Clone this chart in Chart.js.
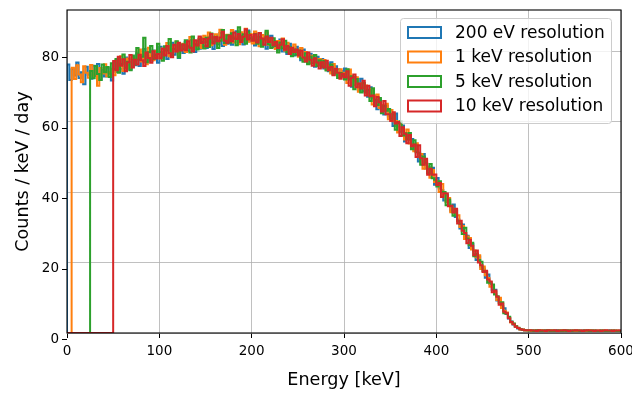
<!DOCTYPE html>
<html>
<head>
<meta charset="utf-8">
<script src="https://cdn.jsdelivr.net/npm/chart.js@4.4.1/dist/chart.umd.min.js"></script>
<style>
  html, body { margin: 0; padding: 0; background: #fff; }
  #chart { display: block; }
</style>
</head>
<body>
<canvas id="chart" width="632" height="394"></canvas>
<script>
// histogram bins are 2.5 keV wide, 0 - 600 keV (240 bins per series)
const BIN_WIDTH = 2.5;

const seriesLabels = ['200 eV resolution', '1 keV resolution', '5 keV resolution', '10 keV resolution'];
const seriesColors = ['#1f77b4', '#ff7f0e', '#2ca02c', '#d62728'];
const xTicks = [0, 100, 200, 300, 400, 500, 600];
const yTicks = [0, 20, 40, 60, 80];

const res200eV = [
  76.2, 71.8, 74.9, 73.1, 76.8, 72.4, 74.0, 70.6, 75.6, 73.3,
  72.2, 75.9, 73.0, 76.4, 71.9, 74.7, 72.8, 75.3, 73.6, 71.7,
  76.8, 74.1, 77.9, 75.0, 73.6, 78.2, 76.1, 74.8, 77.5, 76.0,
  79.4, 75.8, 78.1, 80.6, 76.9, 78.8, 77.3, 80.2, 78.0, 76.7,
  81.3, 78.2, 80.9, 77.8, 79.6, 82.4, 79.0, 80.3, 78.1, 81.7,
  79.5, 82.6, 80.1, 83.2, 81.0, 79.8, 82.9, 80.7, 83.8, 81.4,
  80.9, 84.1, 82.3, 80.6, 83.7, 82.0, 85.2, 81.5, 83.4, 82.1,
  84.6, 81.8, 83.9, 85.7, 82.2, 84.3, 81.9, 83.5, 85.9, 82.8,
  84.0, 81.6, 83.2, 85.1, 81.9, 83.8, 80.7, 82.9, 84.4, 81.2,
  82.8, 80.4, 83.3, 79.9, 81.7, 79.2, 82.1, 80.0, 78.8, 81.3,
  79.6, 77.4, 80.5, 78.1, 76.8, 79.3, 77.9, 75.6, 78.4, 76.2,
  77.8, 75.1, 76.6, 74.3, 76.9, 73.8, 75.7, 74.9, 72.6, 74.4,
  75.1, 72.3, 72.7, 69.9, 72.7, 71.4, 69.0, 72.2, 68.6, 68.8,
  67.1, 69.8, 66.7, 67.4, 63.5, 66.2, 64.6, 62.0, 64.5, 61.5,
  62.1, 58.8, 62.3, 58.7, 57.1, 58.9, 54.4, 56.4, 54.8, 55.1,
  52.2, 53.3, 48.7, 50.4, 50.8, 46.7, 47.2, 45.2, 46.9, 42.1,
  44.0, 41.0, 40.6, 37.6, 39.1, 37.3, 34.7, 36.5, 32.9, 32.2,
  29.7, 30.8, 27.9, 27.6, 24.1, 25.3, 23.3, 20.7, 21.7, 18.7,
  18.3, 15.7, 16.6, 13.9, 12.2, 12.3, 9.2, 9.3, 7.6, 7.0,
  5.4, 4.1, 3.3, 2.4, 1.8, 1.3, 1.1, 0.9, 0.8, 0.8,
  0.7, 0.8, 0.6, 0.7, 0.8, 0.7, 0.6, 0.8, 0.7, 0.7,
  0.6, 0.7, 0.8, 0.6, 0.7, 0.7, 0.8, 0.6, 0.7, 0.6,
  0.7, 0.6, 0.7, 0.8, 0.6, 0.7, 0.6, 0.7, 0.6, 0.7,
  0.6, 0.7, 0.6, 0.6, 0.7, 0.6, 0.7, 0.6, 0.6, 0.7
];

const res1keV = [
  0, 0, 75.3, 72.1, 76.0, 73.4, 71.2, 75.7, 73.9, 72.5,
  76.1, 73.0, 74.6, 70.2, 75.2, 73.7, 76.3, 72.9, 74.1, 75.0,
  73.2, 77.4, 75.1, 78.6, 74.4, 76.7, 77.9, 75.2, 78.3, 76.9,
  78.0, 80.5, 77.1, 79.2, 76.3, 81.0, 78.6, 77.4, 80.1, 79.3,
  77.9, 80.8, 79.4, 82.3, 78.6, 81.1, 80.0, 82.7, 79.2, 80.4,
  82.1, 79.8, 81.6, 84.0, 80.3, 82.5, 81.2, 83.6, 80.9, 84.4,
  82.6, 85.3, 81.7, 83.9, 84.8, 82.4, 86.1, 83.2, 81.8, 84.7,
  83.1, 86.0, 82.5, 84.2, 82.0, 85.4, 83.3, 86.4, 82.7, 84.9,
  82.2, 85.6, 83.0, 81.4, 84.6, 82.8, 85.3, 81.8, 83.5, 82.3,
  80.6, 82.9, 81.1, 83.6, 80.2, 82.4, 80.8, 79.5, 81.9, 80.1,
  78.4, 80.9, 77.6, 79.8, 78.9, 76.5, 78.7, 77.0, 76.1, 77.8,
  76.2, 77.5, 74.8, 75.9, 73.7, 76.4, 74.2, 73.1, 74.9, 72.8,
  73.9, 71.0, 74.8, 71.7, 70.4, 72.6, 68.5, 70.8, 69.6, 70.3,
  67.7, 69.2, 64.9, 67.0, 67.7, 63.9, 64.7, 63.1, 65.1, 60.7,
  63.3, 60.1, 60.2, 56.9, 59.4, 57.7, 54.9, 57.8, 53.8, 53.6,
  51.6, 53.9, 50.5, 50.8, 46.6, 49.0, 47.1, 44.1, 46.3, 42.9,
  43.1, 40.0, 42.3, 39.1, 37.2, 38.3, 34.3, 35.3, 33.7, 33.4,
  30.1, 30.4, 26.7, 27.4, 27.0, 23.7, 23.4, 21.5, 22.1, 18.2,
  18.9, 16.4, 15.6, 13.1, 13.4, 11.7, 9.4, 10.0, 7.1, 6.3,
  5.8, 4.4, 3.0, 2.6, 1.9, 1.4, 1.0, 1.0, 0.8, 0.7,
  0.8, 0.6, 0.7, 0.7, 0.6, 0.8, 0.7, 0.6, 0.7, 0.8,
  0.7, 0.6, 0.6, 0.7, 0.8, 0.6, 0.7, 0.7, 0.6, 0.7,
  0.6, 0.7, 0.7, 0.6, 0.7, 0.6, 0.8, 0.6, 0.7, 0.6,
  0.7, 0.6, 0.7, 0.7, 0.6, 0.6, 0.7, 0.6, 0.7, 0.6
];

const res5keV = [
  0, 0, 0, 0, 0, 0, 0, 0, 0, 0,
  74.4, 72.3, 75.8, 73.5, 71.8, 76.2, 74.0, 75.5, 72.7, 76.6,
  74.9, 77.8, 73.9, 76.4, 79.1, 75.3, 77.0, 74.6, 78.8, 76.2,
  80.9, 77.6, 78.4, 83.8, 76.9, 79.7, 81.5, 77.8, 79.0, 82.1,
  79.8, 77.3, 81.4, 80.2, 83.5, 78.9, 80.6, 82.8, 78.2, 81.9,
  80.6, 83.1, 81.4, 79.6, 84.2, 82.0, 80.5, 83.4, 82.6, 80.8,
  83.8, 81.2, 85.0, 82.7, 84.1, 80.9, 83.0, 86.0, 82.3, 84.5,
  82.4, 85.1, 83.6, 81.7, 86.8, 83.0, 84.8, 82.1, 85.5, 83.7,
  83.4, 84.9, 82.1, 84.1, 81.3, 83.3, 85.8, 82.0, 80.9, 83.7,
  81.5, 79.6, 82.5, 80.8, 83.0, 79.7, 81.2, 78.6, 80.5, 79.0,
  80.2, 78.0, 77.0, 79.4, 76.3, 78.5, 76.6, 78.9, 75.8, 77.4,
  75.6, 77.2, 74.5, 75.3, 76.2, 73.4, 74.6, 72.4, 73.8, 73.0,
  72.0, 74.9, 72.0, 72.9, 69.2, 72.1, 70.7, 68.3, 71.0, 68.2,
  69.0, 65.9, 69.5, 66.2, 64.7, 66.7, 62.4, 64.5, 63.1, 63.6,
  60.8, 62.1, 57.7, 59.5, 60.1, 56.1, 56.7, 55.0, 56.8, 52.2,
  54.7, 51.3, 51.2, 47.8, 50.1, 48.3, 45.4, 48.0, 43.9, 43.5,
  41.6, 43.1, 40.1, 40.0, 36.3, 37.9, 36.1, 33.3, 34.8, 31.8,
  31.0, 28.1, 29.9, 26.8, 24.9, 25.6, 21.8, 22.5, 20.7, 20.2,
  17.6, 17.4, 14.3, 14.4, 13.8, 10.9, 10.4, 8.6, 8.7, 5.6,
  5.5, 4.6, 3.2, 2.7, 1.9, 1.5, 1.1, 0.9, 0.8, 0.8,
  0.7, 0.7, 0.6, 0.8, 0.7, 0.6, 0.7, 0.7, 0.8, 0.6,
  0.7, 0.6, 0.7, 0.7, 0.6, 0.8, 0.6, 0.7, 0.6, 0.7,
  0.7, 0.7, 0.6, 0.6, 0.7, 0.7, 0.6, 0.7, 0.7, 0.6,
  0.6, 0.7, 0.7, 0.6, 0.6, 0.7, 0.6, 0.7, 0.6, 0.6
];

const res10keV = [
  0, 0, 0, 0, 0, 0, 0, 0, 0, 0,
  0, 0, 0, 0, 0, 0, 0, 0, 0, 0,
  77.2, 74.6, 78.4, 75.9, 77.7, 74.3, 76.8, 78.9, 75.4, 77.6,
  76.2, 79.0, 77.4, 75.8, 79.6, 78.1, 76.7, 80.0, 77.9, 79.2,
  78.0, 80.7, 78.8, 81.5, 79.4, 78.3, 81.8, 79.9, 82.4, 80.2,
  81.9, 80.3, 82.8, 81.0, 79.9, 83.1, 81.6, 84.2, 82.3, 83.5,
  81.4, 83.6, 84.9, 82.2, 84.0, 82.8, 83.9, 85.5, 83.0, 82.4,
  84.4, 82.8, 85.3, 83.5, 84.9, 82.6, 84.1, 86.2, 83.3, 84.6,
  83.0, 84.8, 82.5, 85.2, 83.6, 81.8, 84.2, 82.6, 83.8, 81.7,
  82.6, 80.9, 81.8, 83.4, 80.4, 81.5, 79.2, 81.0, 79.8, 80.5,
  78.8, 80.1, 78.2, 77.1, 79.6, 77.6, 75.9, 78.0, 76.8, 75.1,
  76.9, 75.4, 77.3, 74.6, 75.5, 73.2, 75.0, 73.9, 72.2, 73.6,
  72.6, 74.3, 70.2, 72.5, 73.4, 69.8, 70.8, 69.4, 71.6, 67.4,
  70.2, 67.2, 67.4, 64.4, 67.0, 65.5, 62.9, 65.9, 62.1, 62.1,
  60.2, 62.7, 59.5, 59.9, 55.9, 58.4, 56.6, 53.9, 56.2, 53.0,
  53.5, 50.0, 53.3, 49.6, 47.8, 49.5, 44.9, 46.6, 44.9, 45.0,
  42.0, 42.6, 38.6, 39.7, 39.6, 36.0, 36.1, 34.2, 35.3, 31.1,
  31.9, 29.0, 28.4, 25.5, 26.5, 24.8, 22.1, 23.4, 20.0, 19.2,
  17.3, 17.7, 15.2, 14.6, 11.6, 12.1, 10.3, 8.0, 8.4, 6.0,
  5.6, 4.2, 3.1, 2.5, 1.8, 1.4, 1.1, 0.9, 0.8, 0.8,
  0.8, 0.7, 0.7, 0.6, 0.8, 0.7, 0.7, 0.6, 0.8, 0.7,
  0.7, 0.8, 0.6, 0.7, 0.7, 0.8, 0.7, 0.6, 0.7, 0.7,
  0.8, 0.7, 0.7, 0.6, 0.7, 0.8, 0.7, 0.7, 0.6, 0.7,
  0.7, 0.6, 0.7, 0.8, 0.7, 0.7, 0.6, 0.7, 0.7, 0.7
];

const allSeries = [res200eV, res1keV, res5keV, res10keV];

// step outline: start on the baseline, each value held up to its bin's right edge
const toSteps = (values) => {
  const pts = [{ x: 0, y: 0 }];
  values.forEach((v, i) => pts.push({ x: (i + 1) * BIN_WIDTH, y: v }));
  return pts;
};

Chart.defaults.font.family = "'DejaVu Sans', sans-serif";
Chart.defaults.color = '#000';

// frame, y tick marks (sit a little below the grid lines in the original) and a matplotlib-style legend
const extrasPlugin = {
  id: 'extras',
  afterDatasetsDraw(chart) {
    const { ctx, chartArea: a, scales } = chart;
    ctx.save();
    ctx.strokeStyle = '#000';
    ctx.lineWidth = 1.1;
    ctx.strokeRect(a.left, a.top, a.right - a.left, a.bottom - a.top);

    ctx.lineWidth = 1;
    yTicks.forEach(v => {
      const y = Math.round(scales.y.getPixelForValue(v) + 6) + 0.5;
      ctx.beginPath();
      ctx.moveTo(a.left - 5, y);
      ctx.lineTo(a.left, y);
      ctx.stroke();
    });

    // legend box
    const lx = 400.5, ly = 18.5, lw = 211, lh = 105;
    ctx.beginPath();
    ctx.roundRect(lx, ly, lw, lh, 3);
    ctx.fillStyle = 'rgba(255,255,255,0.8)';
    ctx.fill();
    ctx.strokeStyle = '#cccccc';
    ctx.lineWidth = 1;
    ctx.stroke();

    ctx.font = "17px 'DejaVu Sans'";
    ctx.textBaseline = 'middle';
    ctx.textAlign = 'left';
    seriesLabels.forEach((label, i) => {
      const cy = 32.5 + i * 24.5;
      ctx.strokeStyle = seriesColors[i];
      ctx.lineWidth = 2;
      ctx.strokeRect(408, cy - 5.5, 33, 11);
      ctx.fillStyle = '#000';
      ctx.fillText(label, 455, cy + 1);
    });
    ctx.restore();
  }
};

const ctx = document.getElementById('chart');
new Chart(ctx, {
  type: 'line',
  data: {
    datasets: allSeries.map((values, i) => ({
      label: seriesLabels[i],
      data: toSteps(values),
      borderColor: seriesColors[i],
      borderWidth: 2,
      pointRadius: 0,
      stepped: 'after',
      fill: false,
      order: allSeries.length - i // red drawn last, on top
    }))
  },
  options: {
    responsive: false,
    animation: false,
    layout: { padding: { top: 10, right: 11, left: 0, bottom: 0 } },
    plugins: { legend: { display: false }, tooltip: { enabled: false } },
    scales: {
      x: {
        type: 'linear',
        min: 0,
        max: 600,
        afterBuildTicks: (scale) => { scale.ticks = xTicks.map(v => ({ value: v })); },
        ticks: { font: { size: 13.5 }, color: '#000', padding: 5, maxRotation: 0 },
        grid: { color: '#b0b0b0', lineWidth: 0.8, tickColor: '#000', tickLength: 5, tickWidth: 1 },
        border: { display: false },
        title: { display: true, text: 'Energy [keV]', font: { size: 17.6 }, color: '#000', padding: { top: 0, bottom: 3.4 } },
        afterFit: (scale) => { scale.height = 61; scale.paddingLeft = 0; scale.paddingRight = 0; }
      },
      y: {
        min: 0,
        max: 91.7,
        afterBuildTicks: (scale) => { scale.ticks = yTicks.map(v => ({ value: v })); },
        ticks: { font: { size: 13.5 }, color: '#000', padding: 8, labelOffset: 6 },
        grid: { color: '#b0b0b0', lineWidth: 0.8, drawTicks: false },
        border: { display: false },
        title: { display: true, text: 'Counts / keV / day', font: { size: 17.6 }, color: '#000', padding: { top: 12.4, bottom: 0 } },
        afterFit: (scale) => { scale.width = 67; scale.paddingTop = 0; scale.paddingBottom = 0; }
      }
    }
  },
  plugins: [extrasPlugin]
});
</script>
</body>
</html>
